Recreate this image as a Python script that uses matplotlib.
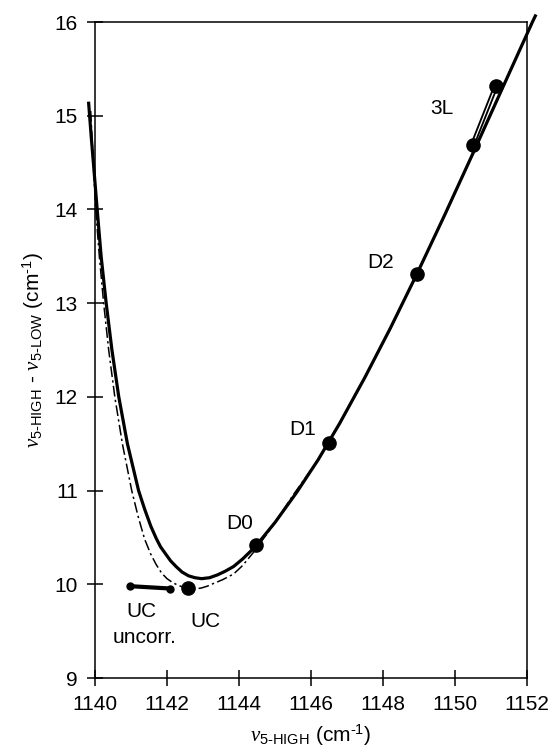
import matplotlib
matplotlib.use("Agg")
import matplotlib.pyplot as plt

plt.rcParams['font.family'] = ['Liberation Sans', 'DejaVu Sans']
plt.rcParams['mathtext.fontset'] = 'custom'
plt.rcParams['mathtext.rm'] = 'Liberation Sans'
plt.rcParams['mathtext.it'] = 'Liberation Serif:italic'
plt.rcParams['mathtext.bf'] = 'Liberation Sans:bold'

# solid curve (fit)
sol_x = [1139.82, 1139.90, 1139.98, 1140.06, 1140.17, 1140.31, 1140.47, 1140.66,
         1140.90, 1141.21, 1141.38, 1141.55, 1141.70, 1141.82, 1141.95, 1142.10,
         1142.25, 1142.42, 1142.60, 1142.78, 1142.96, 1143.18, 1143.40, 1143.62,
         1143.85, 1144.10, 1144.45, 1145.00, 1145.60, 1146.20, 1146.80, 1147.50,
         1148.20, 1148.94, 1149.70, 1150.50, 1151.30, 1152.15, 1152.25]
sol_y = [15.15, 14.75, 14.38, 14.00, 13.50, 13.00, 12.50, 12.00,
         11.50, 11.00, 10.80, 10.62, 10.49, 10.40, 10.33, 10.25,
         10.19, 10.13, 10.09, 10.07, 10.06, 10.07, 10.10, 10.14,
         10.19, 10.27, 10.40, 10.66, 10.98, 11.33, 11.72, 12.21,
         12.73, 13.31, 13.93, 14.60, 15.28, 16.00, 16.08]

# dash-dot curve
dash_x = [1139.88, 1139.95, 1140.02, 1140.12, 1140.24, 1140.38, 1140.55, 1140.76,
          1141.02, 1141.20, 1141.38, 1141.55, 1141.70, 1141.85, 1142.00, 1142.15,
          1142.30, 1142.45, 1142.60, 1142.78, 1142.95, 1143.12, 1143.30, 1143.55,
          1143.85, 1144.10, 1144.40, 1144.95, 1145.50, 1146.20, 1146.80, 1147.50,
          1148.20, 1148.94, 1149.70, 1150.50, 1151.30, 1152.15]
dash_y = [15.05, 14.50, 14.00, 13.50, 13.00, 12.50, 12.00, 11.50,
          11.00, 10.72, 10.48, 10.32, 10.21, 10.12, 10.06, 10.02,
          9.99, 9.97, 9.95, 9.95, 9.96, 9.98, 10.01, 10.05,
          10.11, 10.20, 10.34, 10.63, 10.95, 11.33, 11.72, 12.21,
          12.73, 13.31, 13.93, 14.60, 15.28, 16.00]

# data points
pt_names = ["UC", "D0", "D1", "D2", "3L", "3L"]
pt_x = [1142.59, 1144.46, 1146.50, 1148.94, 1150.49, 1151.14]
pt_y = [9.96, 10.42, 11.51, 13.31, 14.69, 15.32]

# uncorrected UC
unc_x = [1140.97, 1142.08]
unc_y = [9.98, 9.955]

fig = plt.figure(figsize=(5.54, 7.51), dpi=100)
ax = fig.add_axes([0.1715, 0.0972, 0.7798, 0.8735])

ax.plot(dash_x, dash_y, color='black', lw=1.1, dashes=(7, 2.2, 1.5, 2.2), clip_on=False)
ax.plot(sol_x, sol_y, color='black', lw=2.3, clip_on=False, solid_capstyle='butt',
        solid_joinstyle='round')

ax.plot(pt_x[4:], pt_y[4:], color='black', lw=3.6, solid_capstyle='round')
ax.plot(pt_x[4:], pt_y[4:], color='white', lw=0.9)
ax.plot(pt_x, pt_y, 'o', color='black', ms=9.5, ls='none')
ax.plot(unc_x, unc_y, color='black', lw=3, marker='o', ms=5)

fs = 15
ax.text(1149.64, 15.08, "3L", fontsize=fs, ha='center', va='center')
ax.text(1147.92, 13.43, "D2", fontsize=fs, ha='center', va='center')
ax.text(1145.76, 11.65, "D1", fontsize=fs, ha='center', va='center')
ax.text(1144.03, 10.65, "D0", fontsize=fs, ha='center', va='center')
ax.text(1143.08, 9.60, "UC", fontsize=fs, ha='center', va='center')
ax.text(1141.30, 9.71, "UC", fontsize=fs, ha='center', va='center')
ax.text(1141.39, 9.43, "uncorr.", fontsize=fs, ha='center', va='center')

ax.set_xlim(1140, 1152)
ax.set_ylim(9, 16)
ax.set_xticks(range(1140, 1153, 2))
ax.set_yticks(range(9, 17))
ax.tick_params(direction='inout', length=11, width=1.1, labelsize=fs, pad=7,
               top=False, right=False)
for s in ax.spines.values():
    s.set_linewidth(1.1)

ax.set_xlabel(r"$\nu_{\text{5-HIGH}}$ (cm$^{\text{-1}}$)", fontsize=fs, labelpad=6)
ax.set_ylabel(r"$\nu_{\text{5-HIGH}}$ - $\nu_{\text{5-LOW}}$ (cm$^{\text{-1}}$)",
              fontsize=fs, labelpad=6)

fig.savefig("out.png", dpi=100)
